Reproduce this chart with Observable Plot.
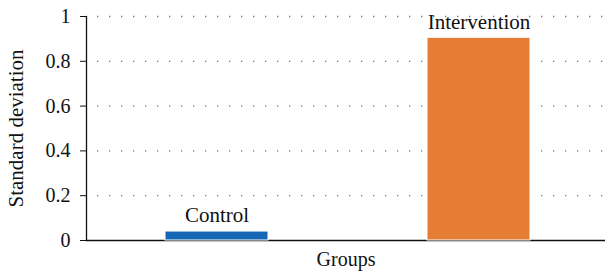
<!DOCTYPE html>
<html>
<head>
<meta charset="utf-8">
<script src="https://cdn.jsdelivr.net/npm/d3@7"></script>
<script src="https://cdn.jsdelivr.net/npm/@observablehq/plot@0.6"></script>
<style>
  html, body { margin: 0; padding: 0; background: #fff; }
  #chart svg, #chart svg text { font-family: "Liberation Serif", "DejaVu Serif", serif !important; }
</style>
</head>
<body>
<div id="chart"></div>
<script>
const groups = ["Control", "Intervention"];
const values = [0.04, 0.905];
const colors = ["#1667b3", "#e67d37"];
const yTicks = [0, 0.2, 0.4, 0.6, 0.8, 1];
const yLabel = "Standard deviation";
const xLabel = "Groups";

const data = groups.map((g, i) => ({group: g, value: values[i], color: colors[i]}));
const font = "Liberation Serif, DejaVu Serif, serif";

const chart = Plot.plot({
  width: 605,
  height: 272,
  marginLeft: 86,
  marginRight: 0,
  marginTop: 16,
  marginBottom: 32,
  style: {fontFamily: font, fontSize: "20px", background: "#fff", color: "#111"},
  x: {domain: groups, range: [86, 609], paddingInner: 0.607, paddingOuter: 0.3, axis: null},
  y: {domain: [0, 1], axis: null},
  marks: [
    Plot.ruleY(yTicks.filter(d => d > 0), {insetLeft: 11, stroke: "#777", strokeDasharray: "1.3,10.7", strokeWidth: 1.3}),
    Plot.ruleY([0], {stroke: "#111", strokeWidth: 1.3}),
    Plot.barY(data, {x: "group", y: "value", fill: "color", stroke: "white", strokeWidth: 1}),
    Plot.text(data, {x: "group", y: "value", text: "group", dy: -16, fontSize: 21, fill: "#111", fontFamily: font}),
    Plot.axisY({ticks: yTicks, tickFormat: d => String(d), tickSize: 6, tickPadding: 10, fontSize: 20, label: null, stroke: "#111", fontFamily: font}),
    Plot.frame({anchor: "left", stroke: "#111", strokeWidth: 1.3}),
    Plot.text([yLabel], {frameAnchor: "left", textAnchor: "middle", dx: -70, rotate: -90, fontSize: 21, fill: "#111", fontFamily: font}),
    Plot.text([xLabel], {frameAnchor: "bottom", dy: 25, fontSize: 20, fill: "#111", fontFamily: font})
  ]
});
document.getElementById("chart").appendChild(chart);
</script>
</body>
</html>
